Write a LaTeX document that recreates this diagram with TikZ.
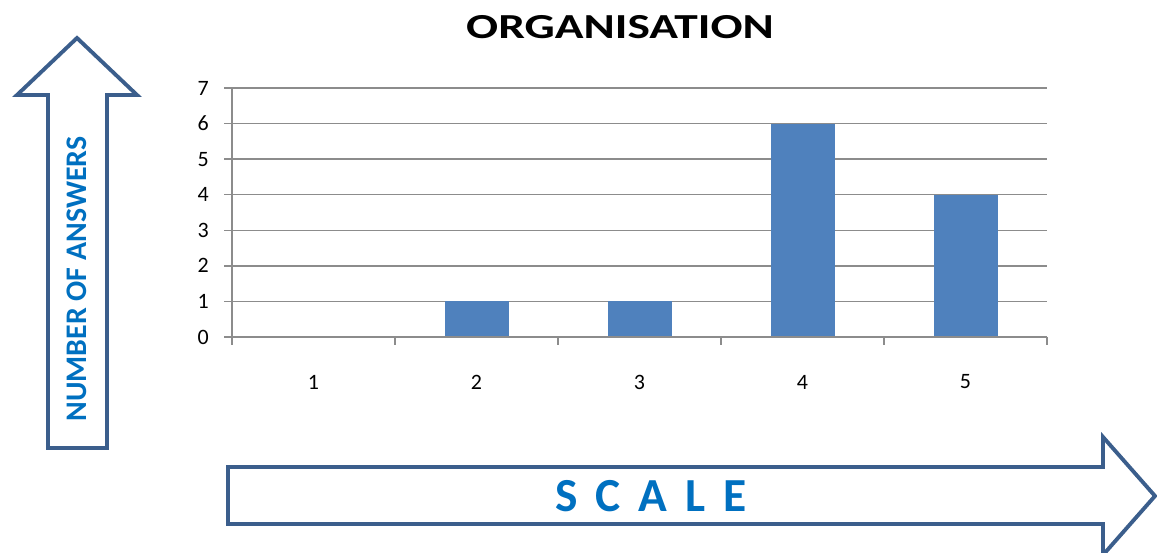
\documentclass[tikz,border=0pt]{standalone}
\usepackage{fontspec}
\setmainfont{Carlito}
\definecolor{arrowblue}{HTML}{3B5E8C}
\definecolor{barblue}{HTML}{4F81BD}
\definecolor{textblue}{HTML}{0070C0}
\definecolor{gridgray}{HTML}{8C8C8C}
\begin{document}
\begin{tikzpicture}[x=0.02cm,y=-0.02cm,
    bigarrow/.style={draw=arrowblue,line width=2.2pt,fill=white,line join=miter},
    gridline/.style={draw=gridgray,line width=0.8pt},
    bar/.style={fill=barblue},
    ticklabel/.style={font=\fontsize{12.5}{14}\selectfont,inner sep=0pt}]

    % Page frame
    \useasboundingbox (0,0) rectangle (1157,553);

    % Title
    \node[font=\fontsize{20}{23}\selectfont\bfseries,xscale=1.35] (title) at (620,27) {ORGANISATION};

    % Vertical arrow
    \draw[bigarrow] (48,448) -- (48,95) -- (17,95) -- (77,38) -- (137,95)
        -- (107,95) -- (107,448) -- cycle;
    \node[rotate=90,text=textblue,font=\fontsize{17}{20}\selectfont\bfseries] (vlabel) at (77,279) {NUMBER OF ANSWERS};

    % Horizontal arrow
    \draw[bigarrow] (228,467) -- (1103,467) -- (1103,437) -- (1155,496)
        -- (1103,555) -- (1103,524) -- (228,524) -- cycle;
    \node[text=textblue,font=\fontsize{27}{30}\selectfont\bfseries\addfontfeature{LetterSpace=38}] (hlabel) at (651,496) {SCALE};

    % Gridlines
    \foreach \v in {1,...,7}
        \draw[gridline] (232,{337-35.57*\v}) -- (1047,{337-35.57*\v});

    % Bars
    \foreach \c/\n in {1/0,2/1,3/1,4/6,5/4}
        \fill[bar] ({232+163*(\c-0.5)-32},337) rectangle ({232+163*(\c-0.5)+32},{337-35.57*\n});

    % Axes and ticks
    \draw[gridline] (232,337) -- (232,88);
    \draw[gridline] (232,337) -- (1047,337);
    \foreach \v in {0,...,7}{
        \draw[gridline] (224,{337-35.57*\v}) -- (232,{337-35.57*\v});
        \node[ticklabel,anchor=east] (ylab\v) at (209,{337-35.57*\v}) {\v};
    }
    \foreach \k in {0,...,5}
        \draw[gridline] ({232+163*\k},337) -- ({232+163*\k},345);
    \foreach \c in {1,...,5}
        \node[ticklabel] (xlab\c) at ({232+163*(\c-0.5)},382) {\c};

\end{tikzpicture}
\end{document}
